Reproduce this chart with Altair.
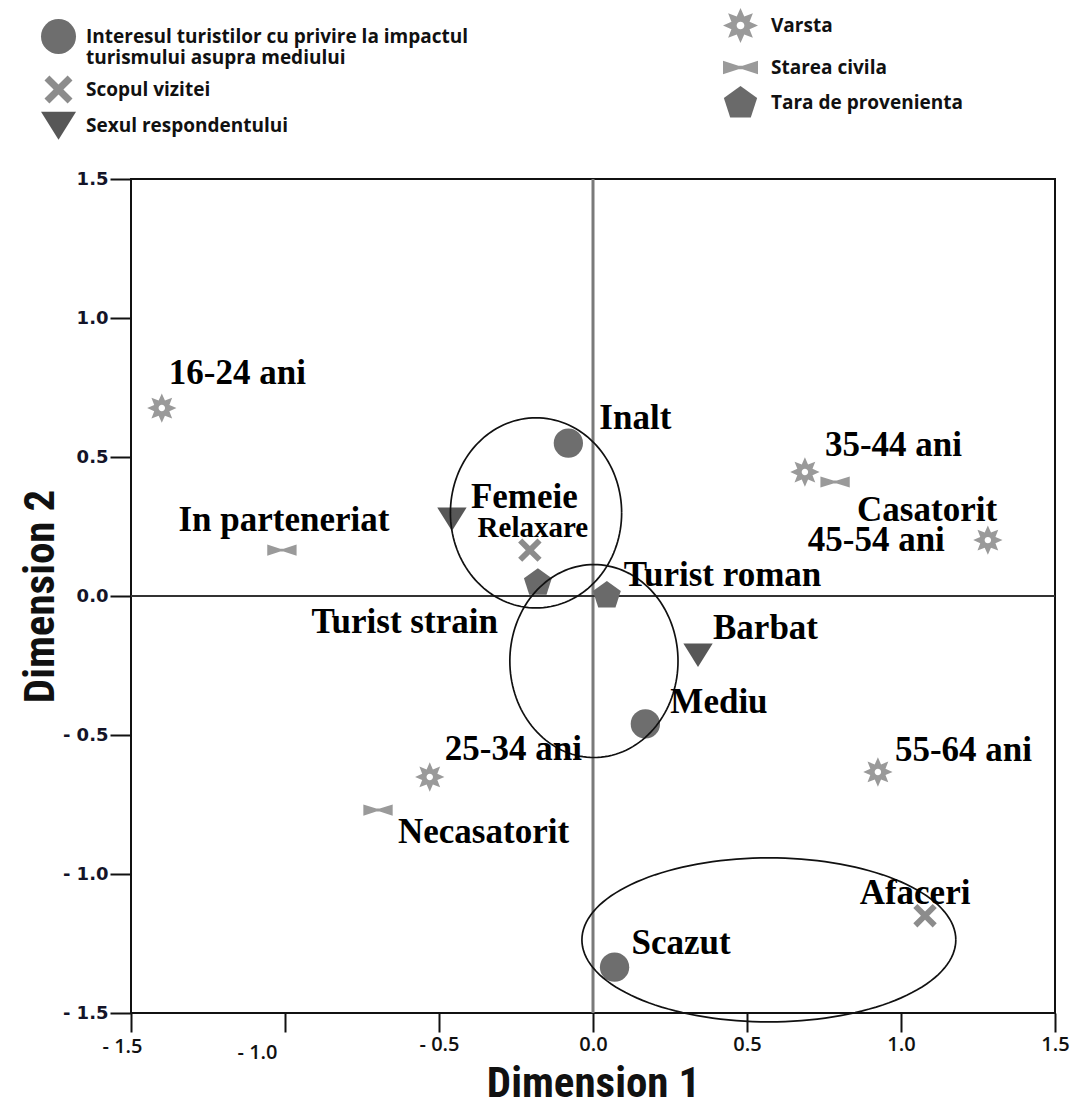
import altair as alt
import numpy as np
import pandas as pd

# ---- coordinates of the category points (Dimension 1, Dimension 2) ----
interes_labels = ["Inalt", "Mediu", "Scazut"]
interes_x = [-0.08, 0.17, 0.07]
interes_y = [0.55, -0.46, -1.335]

scop_labels = ["Relaxare", "Afaceri"]
scop_x = [-0.205, 1.078]
scop_y = [0.165, -1.15]

sex_labels = ["Femeie", "Barbat"]
sex_x = [-0.458, 0.341]
sex_y = [0.277, -0.212]

varsta_labels = ["16-24 ani", "25-34 ani", "35-44 ani", "45-54 ani", "55-64 ani"]
varsta_x = [-1.40, -0.53, 0.688, 1.282, 0.925]
varsta_y = [0.676, -0.651, 0.446, 0.201, -0.633]

civil_labels = ["In parteneriat", "Casatorit", "Necasatorit"]
civil_x = [-1.01, 0.786, -0.698]
civil_y = [0.165, 0.41, -0.77]

tara_labels = ["Turist strain", "Turist roman"]
tara_x = [-0.179, 0.045]
tara_y = [0.05, 0.004]

G_INTERES = "Interesul turistilor cu privire la impactul turismului asupra mediului"
G_SCOP = "Scopul vizitei"
G_SEX = "Sexul respondentului"
G_VARSTA = "Varsta"
G_CIVIL = "Starea civila"
G_TARA = "Tara de provenienta"

# ---- grouping ellipses: centre (x, y) and radii (rx, ry) in data units ----
ell_cx = [-0.185, 0.003, 0.571]
ell_cy = [0.299, -0.234, -1.237]
ell_rx = [0.278, 0.273, 0.607]
ell_ry = [0.342, 0.347, 0.295]

tick_values = [-1.5, -1.0, -0.5, 0.0, 0.5, 1.0, 1.5]

rows = []
for g, labs, xs, ys in [
    (G_INTERES, interes_labels, interes_x, interes_y),
    (G_SCOP, scop_labels, scop_x, scop_y),
    (G_SEX, sex_labels, sex_x, sex_y),
    (G_VARSTA, varsta_labels, varsta_x, varsta_y),
    (G_CIVIL, civil_labels, civil_x, civil_y),
    (G_TARA, tara_labels, tara_x, tara_y),
]:
    for lab, xv, yv in zip(labs, xs, ys):
        rows.append({"group": g, "label": lab, "x": xv, "y": yv})
points = pd.DataFrame(rows)

# ellipse outlines
t = np.linspace(0, 2 * np.pi, 145)
ell_rows = []
for i, (cx, cy, rx, ry) in enumerate(zip(ell_cx, ell_cy, ell_rx, ell_ry)):
    for k, tt in enumerate(t):
        ell_rows.append({"id": i, "k": k, "x": cx + rx * np.cos(tt), "y": cy + ry * np.sin(tt)})
ellipses = pd.DataFrame(ell_rows)

# ---- marker glyphs (unit box -1..1) ----
def _fmt(v):
    return f"{v:.3f}"

def star_path(n=8, r_out=1.0, r_in=0.56, r_hole=0.22):
    pts = []
    for k in range(2 * n):
        r = r_out if k % 2 == 0 else r_in
        a = np.pi * k / n - np.pi / 2
        pts.append((r * np.cos(a), r * np.sin(a)))
    p = "M" + " L".join(f"{_fmt(a)},{_fmt(b)}" for a, b in pts) + " Z"
    hole = []
    for k in range(16):
        a = -2 * np.pi * k / 16
        hole.append((r_hole * np.cos(a), r_hole * np.sin(a)))
    p += " M" + " L".join(f"{_fmt(a)},{_fmt(b)}" for a, b in hole) + " Z"
    return p

X_PATH = ("M-0.8,-0.52 L-0.52,-0.8 L0,-0.28 L0.52,-0.8 L0.8,-0.52 L0.28,0 "
          "L0.8,0.52 L0.52,0.8 L0,0.28 L-0.52,0.8 L-0.8,0.52 L-0.28,0 Z")
TRI_PATH = "M-1,-0.78 L1,-0.78 L0,0.82 Z"
BOW_PATH = ("M-1,-0.38 L-0.12,-0.1 L0.12,-0.1 L1,-0.38 L1,0.38 "
            "L0.12,0.1 L-0.12,0.1 L-1,0.38 Z")
PENT_PATH = "M0,-0.95 L0.951,-0.26 L0.588,0.86 L-0.588,0.86 L-0.951,-0.26 Z"
STAR_PATH = star_path()

left_groups = [G_INTERES, G_SCOP, G_SEX]
left_shapes = ["circle", X_PATH, TRI_PATH]
left_colors = ["#6e6e6e", "#8c8c8c", "#575757"]

right_groups = [G_VARSTA, G_CIVIL, G_TARA]
right_shapes = [STAR_PATH, BOW_PATH, PENT_PATH]
right_colors = ["#9a9a9a", "#9a9a9a", "#6a6a6a"]

# ---- shared axes ----
label_expr = "datum.value < 0 ? '- ' + format(-datum.value, '.1f') : format(datum.value, '.1f')"
TITLE_FONT = "Liberation Sans Narrow, Roboto Condensed, Roboto, sans-serif"

x_axis = alt.Axis(
    values=tick_values, labelExpr=label_expr, grid=False, domain=False,
    ticks=True, tickSize=19, tickWidth=2, tickColor="#111",
    labelFont="Open Sans", labelFontSize=20, labelFontWeight=600, labelColor="#111",
    labelPadding={"condition": [{"test": "datum.value == -1", "value": 10},
                                {"test": "datum.value == -1.5", "value": 4}], "value": 2},
    labelOffset={"condition": [{"test": "datum.value == -1", "value": -28},
                               {"test": "datum.value == -1.5", "value": -9}], "value": 0},
    labelFlush=False, labelOverlap=False,
    titleFont=TITLE_FONT, titleFontSize=43, titleFontWeight="bold", titleColor="#111",
    titleY=70, titleBaseline="middle",
)
y_axis = alt.Axis(
    values=tick_values, labelExpr=label_expr, grid=False, domain=False,
    ticks=True, tickSize=21, tickWidth=2, tickColor="#111",
    labelFont="DejaVu Sans", labelFontSize=18, labelFontWeight="bold", labelColor="#141428",
    labelPadding=2, labelFlush=False, labelOverlap=False,
    titleFont=TITLE_FONT, titleFontSize=43, titleFontWeight="bold", titleColor="#111",
    titleX=-91, titleY=417, titleBaseline="middle", titleAngle=-90,
)
x_scale = alt.Scale(domain=[-1.5, 1.5], nice=False, zero=False)
y_scale = alt.Scale(domain=[-1.5, 1.5], nice=False, zero=False)

def X(field):
    return alt.X(field, type="quantitative", scale=x_scale, axis=x_axis, title="Dimension 1")

def Y(field):
    return alt.Y(field, type="quantitative", scale=y_scale, axis=y_axis, title="Dimension 2")

# ---- reference lines through the origin ----
zero = pd.DataFrame({"v": [0.0]})
vline = alt.Chart(zero).mark_rule(color="#7a7a7a", strokeWidth=3).encode(x=X("v"))
hline = alt.Chart(zero).mark_rule(color="#333333", strokeWidth=2).encode(y=Y("v"))

# ---- markers with their legends ----
two_line = "['Interesul turistilor cu privire la impactul', 'turismului asupra mediului']"

def legend(lx, ly, row_pad, label_off):
    return alt.Legend(
        title=None, orient="none", legendX=lx, legendY=ly,
        rowPadding=row_pad, labelOffset=label_off,
        labelExpr="datum.label == '" + G_INTERES + "' ? " + two_line + " : datum.label",
    )

left_leg = legend(-90, -160, 4, 10)
right_leg = legend(592, -171, 7, 13)

MARK_SIZE = 860

left_marks = (
    alt.Chart(points)
    .transform_filter(alt.FieldOneOfPredicate(field="group", oneOf=left_groups))
    .mark_point(filled=True, opacity=1, size=MARK_SIZE, strokeWidth=0)
    .encode(
        x=X("x"), y=Y("y"),
        shape=alt.Shape("group:N", scale=alt.Scale(domain=left_groups, range=left_shapes), legend=left_leg),
        color=alt.Color("group:N", scale=alt.Scale(domain=left_groups, range=left_colors), legend=left_leg),
    )
)
right_marks = (
    alt.Chart(points)
    .transform_filter(alt.FieldOneOfPredicate(field="group", oneOf=right_groups))
    .mark_point(filled=True, opacity=1, size=MARK_SIZE, strokeWidth=0)
    .encode(
        x=X("x"), y=Y("y"),
        shape=alt.Shape("group:N", scale=alt.Scale(domain=right_groups, range=right_shapes), legend=right_leg),
        color=alt.Color("group:N", scale=alt.Scale(domain=right_groups, range=right_colors), legend=right_leg),
    )
)

ell = (
    alt.Chart(ellipses)
    .mark_line(color="#111", strokeWidth=1.7)
    .encode(x=X("x"), y=Y("y"), detail="id:N", order="k:Q")
)

# ---- category labels: (dx, dy, align, font size) ----
placement = {
    "Inalt": (31, -25, "left", 35),
    "Mediu": (25, -22, "left", 35),
    "Scazut": (17, -24, "left", 35),
    "Relaxare": (3, -22, "center", 29),
    "Afaceri": (-10, -23, "center", 35),
    "Femeie": (19, -22, "left", 35),
    "Barbat": (15, -27, "left", 35),
    "16-24 ani": (7, -35, "left", 35),
    "25-34 ani": (15, -28, "left", 35),
    "35-44 ani": (20, -27, "left", 35),
    "45-54 ani": (-43, 0, "right", 35),
    "55-64 ani": (17, -22, "left", 35),
    "In parteneriat": (2, -30, "center", 35),
    "Casatorit": (22, 28, "left", 35),
    "Necasatorit": (20, 22, "left", 35),
    "Turist strain": (-40, 40, "right", 35),
    "Turist roman": (17, -20, "left", 35),
}

text_layers = []
for lab, (dx, dy, align, fs) in placement.items():
    text_layers.append(
        alt.Chart(points)
        .transform_filter(alt.datum.label == lab)
        .mark_text(dx=dx, dy=dy, align=align, baseline="middle",
                   font="Liberation Serif", fontSize=fs, fontWeight="bold", color="#000")
        .encode(x=X("x"), y=Y("y"), text="label:N")
    )

chart = (
    alt.layer(vline, hline, left_marks, right_marks, ell, *text_layers)
    .resolve_scale(shape="independent", color="independent")
    .properties(
        width=924, height=834,
        padding={"left": 131, "top": 179, "right": 19, "bottom": 96},
        autosize=alt.AutoSizeParams(type="none"),
        background="white",
    )
    .configure(style={"guide-label": {"lineHeight": 21}})
    .configure_view(stroke="#111", strokeWidth=2)
    .configure_legend(
        padding=0, symbolSize=1225, symbolStrokeWidth=0, symbolOpacity=1,
        labelFont="Open Sans", labelFontSize=19, labelFontWeight="bold", labelColor="#111",
        labelLimit=700, labelBaseline="middle",
    )
)

chart.save("out.html", embed_options={"renderer": "svg", "actions": False})
